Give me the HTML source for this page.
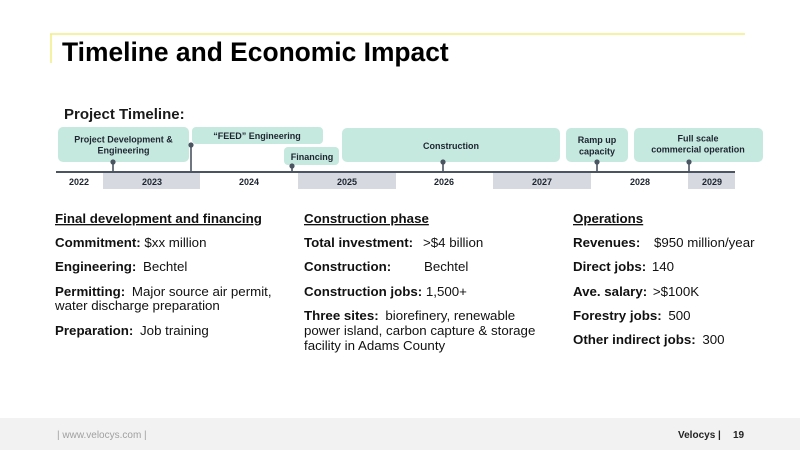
<!DOCTYPE html>
<html>
<head>
<meta charset="utf-8">
<style>
  html,body{margin:0;padding:0;background:#fff;}
  svg{display:block;}
  text{font-family:"Liberation Sans",Arial,sans-serif;}
  .b{font-weight:bold;}
  .box{fill:#c6e9df;}
  .bt{font-size:9px;font-weight:bold;fill:#1d2530;text-anchor:middle;}
  .yr{font-size:9px;font-weight:bold;fill:#1d2530;text-anchor:middle;}
  .mk{stroke:#4b5461;stroke-width:1.6;}
  .dot{fill:#4b5461;}
  .t{font-size:13.3px;fill:#111;}
</style>
</head>
<body>
<svg width="800" height="450" viewBox="0 0 800 450" xmlns="http://www.w3.org/2000/svg">
  <rect x="0" y="0" width="800" height="450" fill="#ffffff"/>

  <!-- Title bracket -->
  <line x1="50" y1="34" x2="745" y2="34" stroke="#f3ee86" stroke-width="1.5"/>
  <line x1="51" y1="34" x2="51" y2="63" stroke="#f3ee86" stroke-width="1.5"/>
  <text x="62" y="61" class="b" font-size="26.4" fill="#000">Timeline and Economic Impact</text>

  <text x="64" y="119" class="b" font-size="15" fill="#1a1a1a">Project Timeline:</text>

  <!-- Year bands -->
  <rect x="103" y="173" width="97" height="16" fill="#d6dae0"/>
  <rect x="298" y="173" width="98" height="16" fill="#d6dae0"/>
  <rect x="493" y="173" width="98" height="16" fill="#d6dae0"/>
  <rect x="688" y="173" width="47" height="16" fill="#d6dae0"/>

  <!-- Boxes -->
  <rect class="box" x="58" y="127" width="131" height="35" rx="5"/>
  <rect class="box" x="192" y="127" width="131" height="17" rx="4"/>
  <rect class="box" x="284" y="147" width="55" height="18" rx="4"/>
  <rect class="box" x="342" y="128" width="218" height="34" rx="5"/>
  <rect class="box" x="566" y="128" width="62" height="34" rx="5"/>
  <rect class="box" x="634" y="128" width="129" height="34" rx="5"/>

  <text class="bt" x="123.5" y="142.5">Project Development &amp;</text>
  <text class="bt" x="123.5" y="153.5">Engineering</text>
  <text class="bt" x="257" y="139">“FEED” Engineering</text>
  <text class="bt" x="312" y="160">Financing</text>
  <text class="bt" x="451" y="149">Construction</text>
  <text class="bt" x="597" y="143">Ramp up</text>
  <text class="bt" x="597" y="154.5">capacity</text>
  <text class="bt" x="698" y="141.5">Full scale</text>
  <text class="bt" x="698" y="152.5">commercial operation</text>

  <!-- Axis line -->
  <line x1="56" y1="172" x2="735" y2="172" stroke="#4b5461" stroke-width="2"/>

  <!-- Markers -->
  <line class="mk" x1="113" y1="162" x2="113" y2="172"/><circle class="dot" cx="113" cy="162" r="2.6"/>
  <line class="mk" x1="191" y1="145" x2="191" y2="172"/><circle class="dot" cx="191" cy="145" r="2.6"/>
  <line class="mk" x1="292" y1="166" x2="292" y2="172"/><circle class="dot" cx="292" cy="166" r="2.6"/>
  <line class="mk" x1="443" y1="162" x2="443" y2="172"/><circle class="dot" cx="443" cy="162" r="2.6"/>
  <line class="mk" x1="597" y1="162" x2="597" y2="172"/><circle class="dot" cx="597" cy="162" r="2.6"/>
  <line class="mk" x1="689" y1="162" x2="689" y2="172"/><circle class="dot" cx="689" cy="162" r="2.6"/>

  <!-- Years -->
  <text class="yr" x="79" y="185">2022</text>
  <text class="yr" x="152" y="185">2023</text>
  <text class="yr" x="249" y="185">2024</text>
  <text class="yr" x="347" y="185">2025</text>
  <text class="yr" x="444" y="185">2026</text>
  <text class="yr" x="542" y="185">2027</text>
  <text class="yr" x="640" y="185">2028</text>
  <text class="yr" x="712" y="185">2029</text>

  <!-- Column 1 -->
  <text class="t b" x="55" y="223" style="text-decoration:underline">Final development and financing</text>
  <text class="t" x="55" y="247"><tspan class="b">Commitment:</tspan> $xx million</text>
  <text class="t" x="55" y="271"><tspan class="b">Engineering:</tspan>  <tspan dx="3">Bechtel</tspan></text>
  <text class="t" x="55" y="296"><tspan class="b">Permitting:</tspan> <tspan dx="3">Major source air permit,</tspan></text>
  <text class="t" x="55" y="310">water discharge preparation</text>
  <text class="t" x="55" y="335"><tspan class="b">Preparation:</tspan> <tspan dx="3">Job training</tspan></text>

  <!-- Column 2 -->
  <text class="t b" x="304" y="223" style="text-decoration:underline">Construction phase</text>
  <text class="t" x="304" y="247"><tspan class="b">Total investment:</tspan></text>
  <text class="t" x="423" y="247">&gt;$4 billion</text>
  <text class="t b" x="304" y="271">Construction:</text>
  <text class="t" x="424" y="271">Bechtel</text>
  <text class="t" x="304" y="296"><tspan class="b">Construction jobs:</tspan> 1,500+</text>
  <text class="t" x="304" y="320"><tspan class="b">Three sites:</tspan> <tspan dx="3">biorefinery, renewable</tspan></text>
  <text class="t" x="304" y="335">power island, carbon capture &amp; storage</text>
  <text class="t" x="304" y="350">facility in Adams County</text>

  <!-- Column 3 -->
  <text class="t b" x="573" y="223" style="text-decoration:underline">Operations</text>
  <text class="t b" x="573" y="247">Revenues:</text>
  <text class="t" x="654" y="247">$950 million/year</text>
  <text class="t" x="573" y="271"><tspan class="b">Direct jobs:</tspan> <tspan dx="2">140</tspan></text>
  <text class="t" x="573" y="296"><tspan class="b">Ave. salary:</tspan> <tspan dx="2">&gt;$100K</tspan></text>
  <text class="t" x="573" y="320"><tspan class="b">Forestry jobs:</tspan> <tspan dx="3">500</tspan></text>
  <text class="t" x="573" y="344"><tspan class="b">Other indirect jobs:</tspan> <tspan dx="3">300</tspan></text>

  <!-- Footer -->
  <rect x="0" y="418" width="800" height="32" fill="#f2f2f2"/>
  <text x="57" y="438" font-size="10" fill="#a0a0a0">|  www.velocys.com  |</text>
  <text x="678" y="438" font-size="10" class="b" fill="#222">Velocys |</text>
  <text x="733" y="438" font-size="10" class="b" fill="#222">19</text>
</svg>
</body>
</html>
